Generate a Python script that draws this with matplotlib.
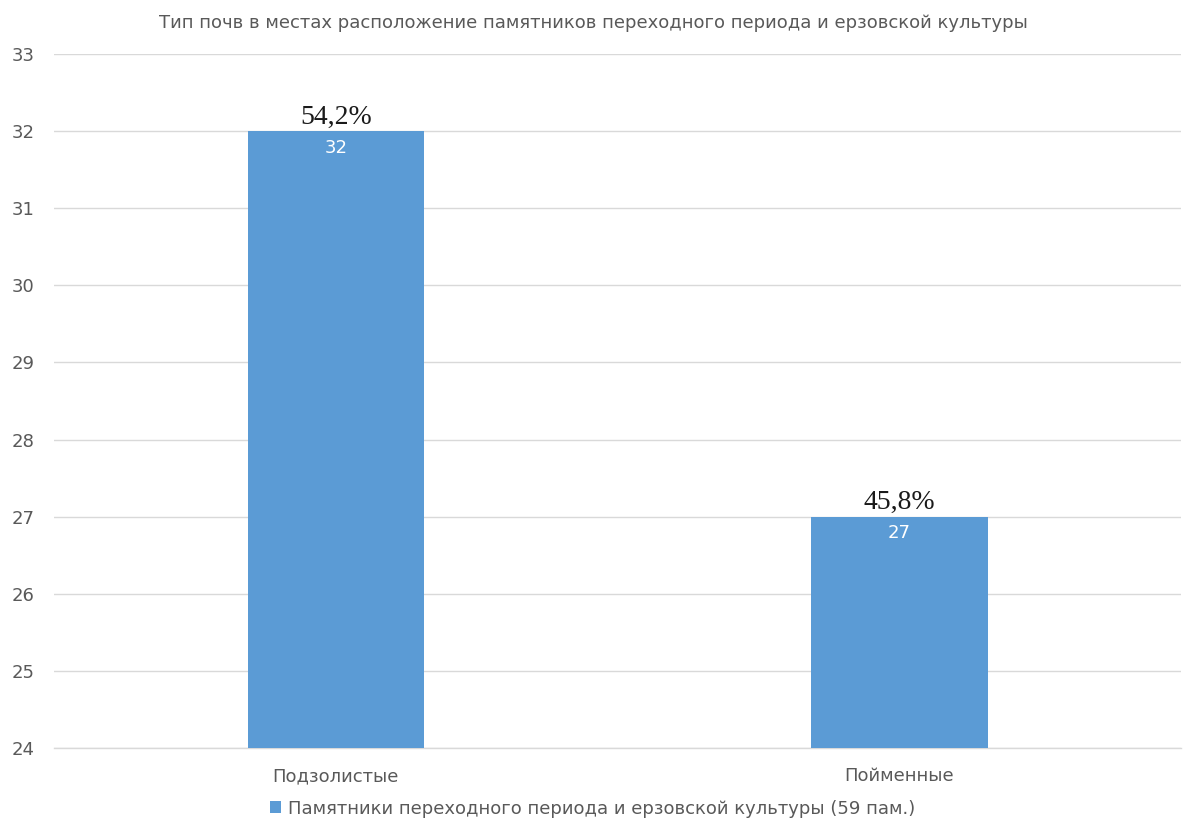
import matplotlib.pyplot as plt

# данные
categories = ['Подзолистые', 'Пойменные']
values = [32, 27]
percents = ['54,2%', '45,8%']
series_name = 'Памятники переходного периода и ерзовской культуры (59 пам.)'
title = 'Тип почв в местах расположение памятников переходного периода и ерзовской культуры'

plt.rcParams['font.family'] = ['DejaVu Sans']

fig = plt.figure(figsize=(11.86, 8.25), dpi=100)
ax = fig.add_axes([0.0455, 0.0933, 0.9505, 0.8412])

x = list(range(len(categories)))
bars = ax.bar(x, values, width=0.313, color='#5B9BD5', zorder=2, label=series_name)

ax.set_ylim(24, 33)
ax.set_xlim(-0.5, 1.5)
ax.set_yticks(range(24, 34))
ax.set_xticks(x)
ax.set_xticklabels(categories)
ax.grid(axis='y', color='#D9D9D9', linewidth=1, zorder=0)
ax.axhline(24, color='#D9D9D9', linewidth=1, zorder=1, clip_on=False)
for s in ax.spines.values():
    s.set_visible(False)
ax.tick_params(length=0, colors='#595959', labelsize=13)
ax.tick_params(axis='x', pad=14)
ax.tick_params(axis='y', pad=14)

for xi, v, p in zip(x, values, percents):
    ax.text(xi, v - 0.1, str(v), ha='center', va='top', color='white', fontsize=13)
    ax.text(xi, v + 0.02, p, ha='center', va='bottom', color='#1a1a1a', fontsize=20,
            family='Liberation Serif')

fig.text(0.5, 0.972, title, ha='center', va='center', color='#595959', fontsize=13)
leg = fig.legend(loc='center', bbox_to_anchor=(0.5, 0.02), frameon=False, fontsize=13,
                 handlelength=0.6, handleheight=0.6, handletextpad=0.4)
for t in leg.get_texts():
    t.set_color('#595959')

fig.savefig('out.png', dpi=100)
